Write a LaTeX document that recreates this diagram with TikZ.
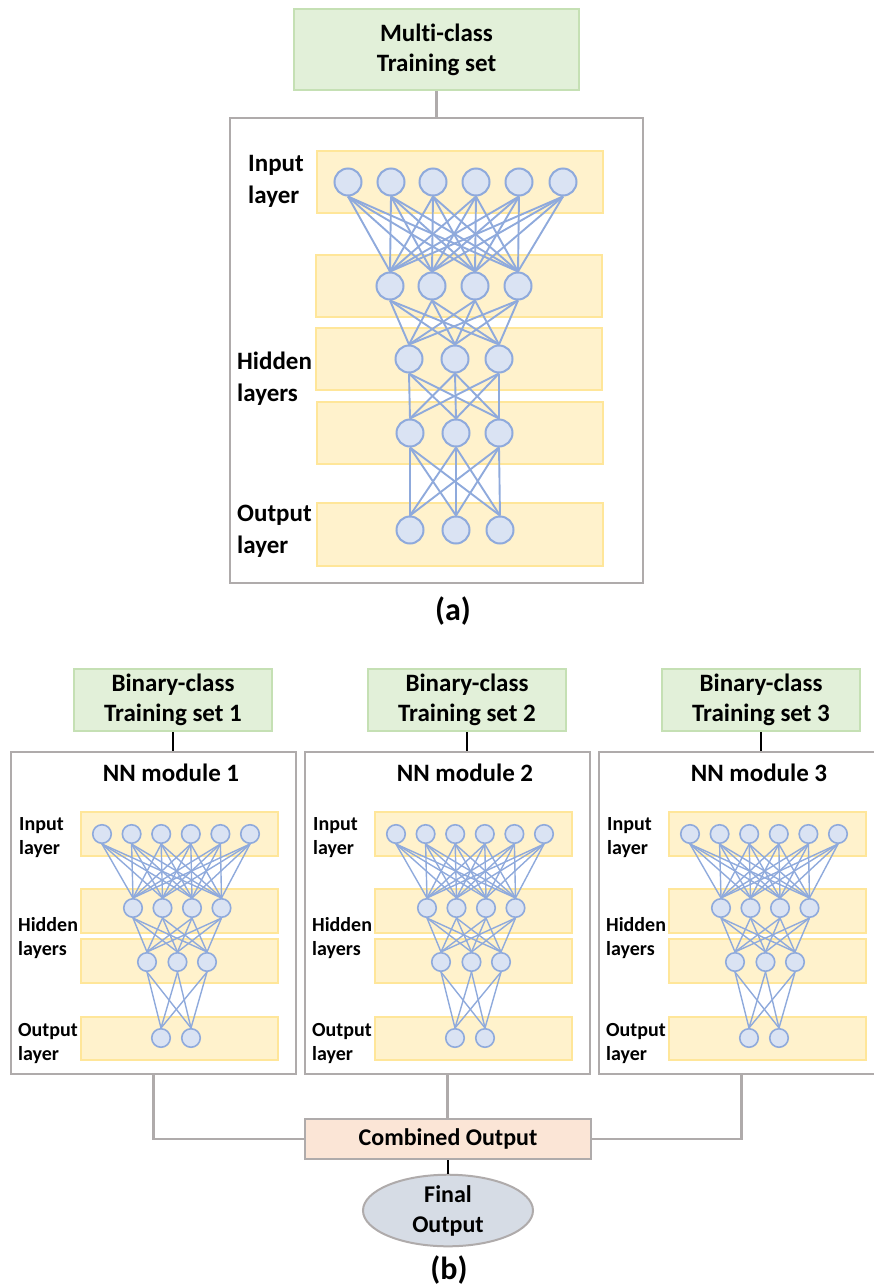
\documentclass[tikz,border=0pt]{standalone}
\usepackage{fontspec}
\setmainfont{Carlito}[Ligatures=NoCommon]
\usetikzlibrary{shapes.geometric}

\definecolor{greenfill}{HTML}{E2F0D9}
\definecolor{greenline}{HTML}{C5E0B4}
\definecolor{bandfill}{HTML}{FFF2CC}
\definecolor{bandline}{HTML}{FFE699}
\definecolor{neuronfill}{HTML}{DAE3F3}
\definecolor{neuronline}{HTML}{8FAADC}
\definecolor{frameline}{HTML}{AFABAB}
\definecolor{combfill}{HTML}{FBE5D6}
\definecolor{finalfill}{HTML}{D6DCE5}

\tikzset{
  trainbox/.style={draw=greenline, fill=greenfill, line width=2pt, inner sep=0pt,
    align=center, font=\bfseries\fontsize{25}{30}\selectfont},
  framebox/.style={draw=frameline, line width=2.5pt, inner sep=0pt},
  band/.style={draw=bandline, fill=bandfill, line width=2pt, inner sep=0pt},
  neuron/.style={circle, draw=neuronline, fill=neuronfill, line width=2pt, inner sep=0pt, minimum size=27pt},
  sneuron/.style={circle, draw=neuronline, fill=neuronfill, line width=1.6pt, inner sep=0pt, minimum size=18.5pt},
  synapse/.style={draw=neuronline, line width=1.9pt},
  ssynapse/.style={draw=neuronline, line width=1.4pt},
  biglabel/.style={anchor=west, align=left, inner sep=0pt, font=\bfseries\fontsize{25}{32}\selectfont},
  smalllabel/.style={anchor=west, align=left, inner sep=0pt, font=\bfseries\fontsize{20}{24}\selectfont},
  title/.style={inner sep=0pt, font=\bfseries\fontsize{25}{30}\selectfont},
  caption/.style={inner sep=0pt, font=\bfseries\fontsize{32}{36}\selectfont},
  grayconn/.style={draw=frameline, line width=2.5pt},
  blackconn/.style={draw=black, line width=1.8pt},
}

\begin{document}
\begin{tikzpicture}[x=1pt, y=-1pt]
\useasboundingbox (0,0) rectangle (874,1288);
\clip (0,0) rectangle (874,1288);

% ---------------- (a) single multi-class network ----------------
\node[trainbox, minimum width=285pt, minimum height=81pt] (tsa) at (436.5,49.5) {Multi-class\\Training set};
\node[framebox, minimum width=413pt, minimum height=465pt] (neta) at (436.5,350.5) {};
\draw[grayconn] (tsa.south) -- (neta.north);

\node[band, minimum width=286pt, minimum height=62pt] (ba1) at (460,182) {};
\node[band, minimum width=286pt, minimum height=62pt] (ba2) at (459,285.5) {};
\node[band, minimum width=286pt, minimum height=62pt] (ba3) at (459,359) {};
\node[band, minimum width=286pt, minimum height=62pt] (ba4) at (460,433) {};
\node[band, minimum width=286pt, minimum height=63pt] (ba5) at (460,534) {};

\node[biglabel] (lain) at (248,181) {Input\\layer};
\node[biglabel] (lahid) at (237,379) {Hidden\\layers};
\node[biglabel] (laout) at (237,531) {Output\\layer};

\foreach \x [count=\i] in {348,391,433,476,519,563}
  \node[neuron] (ai\i) at (\x,182) {};
\foreach \x [count=\i] in {390,432,475,518}
  \node[neuron] (ah\i) at (\x,286) {};
\foreach \x [count=\i] in {409,455,499}
  \node[neuron] (ag\i) at (\x,359) {};
\foreach \x [count=\i] in {410,456,499}
  \node[neuron] (ak\i) at (\x,433) {};
\foreach \x [count=\i] in {410,456,500}
  \node[neuron] (ao\i) at (\x,530) {};

\foreach \i in {1,...,6}
  \foreach \j in {1,...,4}
    \draw[synapse] (ai\i.south) -- (ah\j.north);
\foreach \i in {1,...,4}
  \foreach \j in {1,...,3}
    \draw[synapse] (ah\i.south) -- (ag\j.north);
\foreach \i in {1,...,3}
  \foreach \j in {1,...,3}
    \draw[synapse] (ag\i.south) -- (ak\j.north);
\foreach \i in {1,...,3}
  \foreach \j in {1,...,3}
    \draw[synapse] (ak\i.south) -- (ao\j.north);

\node[caption] (capa) at (453,611) {(a)};

% ---------------- (b) three binary-class modules ----------------
\foreach \m [evaluate=\m as \ox using (\m-1)*294] in {1,2,3} {
  \begin{scope}[xshift=\ox pt]
    \node[trainbox, minimum width=198pt, minimum height=62pt] (tb\m) at (173,700) {Binary-class\\Training set \m};
    \node[framebox, minimum width=285pt, minimum height=322pt] (mod\m) at (153.5,913) {};
    \draw[blackconn] (tb\m.south) -- (tb\m.south |- mod\m.north);
    \node[title] (tt\m) at (171,773) {NN module \m};

    \node[band, minimum width=197pt, minimum height=44pt] (bi\m) at (179.5,834) {};
    \node[band, minimum width=197pt, minimum height=44pt] (bh\m) at (179.5,911) {};
    \node[band, minimum width=197pt, minimum height=44pt] (bg\m) at (179.5,961) {};
    \node[band, minimum width=197pt, minimum height=43pt] (bo\m) at (179.5,1038.5) {};

    \node[smalllabel] (lin\m) at (19,838) {Input\\layer};
    \node[smalllabel] (lhid\m) at (18,938) {Hidden\\layers};
    \node[smalllabel] (lout\m) at (18,1044) {Output\\layer};

    \foreach \x [count=\i] in {102,131.6,161.2,190.8,220.4,250}
      \node[sneuron] (m\m i\i) at (\x,834) {};
    \foreach \x [count=\i] in {133,162.5,192,221.5}
      \node[sneuron] (m\m h\i) at (\x,908) {};
    \foreach \x [count=\i] in {147,177.5,207}
      \node[sneuron] (m\m g\i) at (\x,962) {};
    \foreach \x [count=\i] in {161,191}
      \node[sneuron] (m\m o\i) at (\x,1038) {};

    \foreach \i in {1,...,6}
      \foreach \j in {1,...,4}
        \draw[ssynapse] (m\m i\i.south) -- (m\m h\j.north);
    \foreach \i in {1,...,4}
      \foreach \j in {1,...,3}
        \draw[ssynapse] (m\m h\i.south) -- (m\m g\j.north);
    \foreach \i in {1,...,3}
      \foreach \j in {1,2}
        \draw[ssynapse] (m\m g\i.south) -- (m\m o\j.north);
  \end{scope}
}

\node[framebox, fill=combfill, minimum width=286pt, minimum height=40pt,
      font=\bfseries\fontsize{24}{29}\selectfont] (comb) at (448,1139) {Combined Output};
\draw[grayconn] (mod1.south) |- (comb.west);
\draw[grayconn] (mod2.south) -- (mod2.south |- comb.north);
\draw[grayconn] (mod3.south) |- (comb.east);

\node[ellipse, draw=frameline, fill=finalfill, line width=2pt, inner sep=0pt,
      minimum width=170pt, minimum height=61pt, align=center,
      font=\bfseries\fontsize{24}{30}\selectfont] (final) at (448,1210.5) {Final\\Output};
\draw[blackconn] (comb.south) -- (final.north);

\node[caption] (capb) at (449,1270) {(b)};
\end{tikzpicture}
\end{document}
